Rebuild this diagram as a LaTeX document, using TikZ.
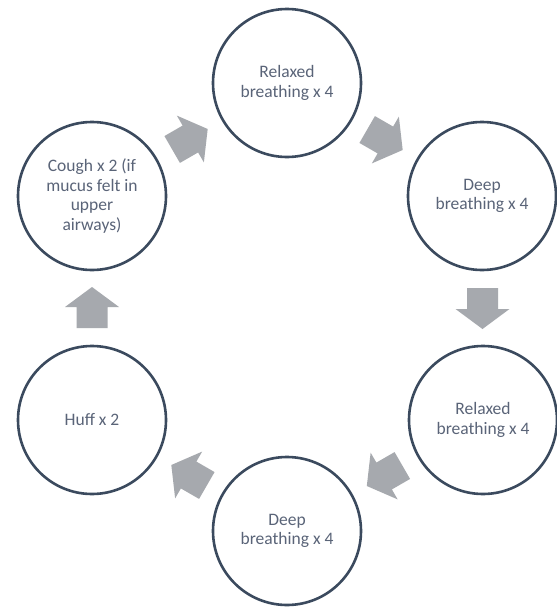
\documentclass[tikz,border=0pt]{standalone}
\usepackage{fontspec}
\setmainfont{Carlito}
\usetikzlibrary{calc}
\definecolor{ring}{HTML}{3B4A5E}
\definecolor{txt}{HTML}{5A6478}
\definecolor{arr}{HTML}{A6A9AE}
\begin{document}
\begin{tikzpicture}[x=1pt,y=-1pt,
  circ/.style={circle,draw=ring,line width=2.6pt,minimum size=148pt,inner sep=0pt,
    align=center,text=txt,font=\fontsize{17.5}{19.5}\selectfont},
  blockarrow/.pic={\fill[arr] (-20,-15.5) -- (1,-15.5) -- (1,-27) -- (21,0) -- (1,27) -- (1,15.5) -- (-20,15.5) -- cycle;}]
\useasboundingbox (0,0) rectangle (557,608);
\fill[white] (0,0) rectangle (557,608);
\node[circ] (A) at (287,83) {Relaxed\\breathing x 4};
\node[circ] (B) at (482,196) {Deep\\breathing x 4};
\node[circ] (C) at (483,420) {Relaxed\\breathing x 4};
\node[circ] (D) at (287,531) {Deep\\breathing x 4};
\node[circ] (E) at (92,420) {Huff x 2};
\node[circ] (F) at (92,196) {Cough x 2 (if\\mucus felt in\\upper\\airways)};
\path ($(F)!0.5!(A)$) pic[rotate=30] {blockarrow};
\path ($(A)!0.5!(B)$) pic[rotate=-30] {blockarrow};
\path ($(B)!0.5!(C)$) pic[rotate=-90] {blockarrow};
\path ($(C)!0.5!(D)$) pic[rotate=-150] {blockarrow};
\path ($(D)!0.5!(E)$) pic[rotate=150] {blockarrow};
\path ($(E)!0.5!(F)$) pic[rotate=90] {blockarrow};
\end{tikzpicture}
\end{document}
